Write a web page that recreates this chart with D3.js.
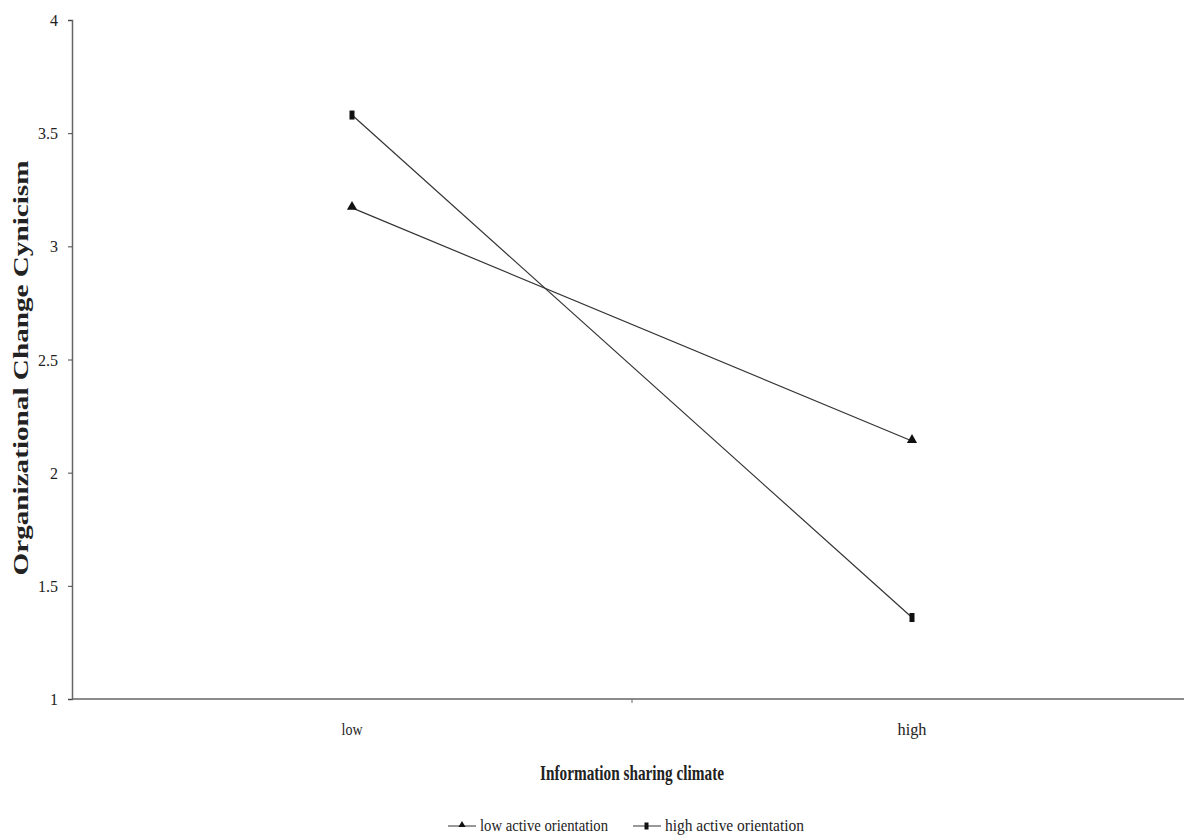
<!DOCTYPE html>
<html>
<head>
<meta charset="utf-8">
<script src="https://cdn.jsdelivr.net/npm/d3@7"></script>
<style>
  body { margin: 0; background: #fff; }
  text { font-family: "Liberation Serif", "Times New Roman", serif; fill: #222; }
</style>
</head>
<body>
<script>
// data
const categories = ["low", "high"];
const seriesNames = ["low active orientation", "high active orientation"];
const lowActive = [3.17, 2.14];
const highActive = [3.58, 1.36];
const yTicks = [1, 1.5, 2, 2.5, 3, 3.5, 4];

const width = 1184, height = 836;
const svg = d3.select("body").append("svg")
  .attr("width", width)
  .attr("height", height);

const x = d3.scaleBand()
  .domain(categories)
  .range([72, 1192]);

const y = d3.scaleLinear()
  .domain([1, 4])
  .range([699, 20]);

// y axis
const yAxis = svg.append("g")
  .attr("transform", "translate(72,0)")
  .call(d3.axisLeft(y).tickValues(yTicks).tickSize(4).tickFormat(d3.format("")))
  .attr("font-family", "Liberation Serif")
  .attr("font-size", 17);
yAxis.select(".domain").attr("stroke", "#666").attr("stroke-width", 1.5);
yAxis.selectAll(".tick line").attr("stroke", "#444");
yAxis.selectAll(".tick text")
  .attr("x", -14)
  .attr("dy", "0.33em")
  .attr("fill", "#222")
  .attr("textLength", d => String(d).length > 1 ? 20 : 8)
  .attr("lengthAdjust", "spacingAndGlyphs");

// x axis, tick between the two bands
svg.append("line")
  .attr("x1", 72).attr("x2", width)
  .attr("y1", y(1)).attr("y2", y(1))
  .attr("stroke", "#666").attr("stroke-width", 1.5);
svg.append("line")
  .attr("x1", x("high")).attr("x2", x("high"))
  .attr("y1", y(1)).attr("y2", y(1) + 4)
  .attr("stroke", "#666");

svg.selectAll(".xlab")
  .data(categories)
  .enter()
  .append("text")
  .attr("class", "xlab")
  .attr("x", d => x(d) + x.bandwidth() / 2)
  .attr("y", 735)
  .attr("text-anchor", "middle")
  .style("font-size", "17px")
  .attr("textLength", d => d === "low" ? 21 : 29)
  .attr("lengthAdjust", "spacingAndGlyphs")
  .text(d => d);

// axis titles
svg.append("text")
  .attr("x", 632).attr("y", 780)
  .attr("text-anchor", "middle")
  .style("font-size", "21px")
  .style("font-weight", "bold")
  .attr("textLength", 184)
  .attr("lengthAdjust", "spacingAndGlyphs")
  .text("Information sharing climate");

svg.append("text")
  .attr("transform", "translate(28,368) rotate(-90)")
  .attr("text-anchor", "middle")
  .style("font-size", "22px")
  .style("font-weight", "bold")
  .attr("textLength", 415)
  .attr("lengthAdjust", "spacingAndGlyphs")
  .text("Organizational Change Cynicism");

// lines and markers
const cx = d => x(d) + x.bandwidth() / 2;
const line = d3.line()
  .x((d, i) => cx(categories[i]))
  .y(d => y(d));

const series = [lowActive, highActive];

svg.selectAll(".series")
  .data(series)
  .enter()
  .append("path")
  .attr("class", "series")
  .attr("d", d => line(d))
  .attr("fill", "none")
  .attr("stroke", "#333")
  .attr("stroke-width", 1.2);

const tri = d3.symbol().type(d3.symbolTriangle).size(45);

svg.selectAll(".tri")
  .data(lowActive)
  .enter()
  .append("path")
  .attr("class", "tri")
  .attr("d", tri)
  .attr("transform", (d, i) => `translate(${cx(categories[i])},${y(d) - 1})`)
  .attr("fill", "#111");

svg.selectAll(".sq")
  .data(highActive)
  .enter()
  .append("rect")
  .attr("class", "sq")
  .attr("x", (d, i) => cx(categories[i]) - 2.5)
  .attr("y", d => y(d) - 4.5)
  .attr("width", 5)
  .attr("height", 9)
  .attr("fill", "#111");

// legend
const legendX = [448, 633];
const legendLen = [128, 139];
const legend = svg.selectAll(".legend")
  .data(seriesNames)
  .enter()
  .append("g")
  .attr("class", "legend")
  .attr("transform", (d, i) => `translate(${legendX[i]},826)`);

legend.append("line")
  .attr("x1", 0).attr("x2", 28)
  .attr("y1", 0).attr("y2", 0)
  .attr("stroke", "#333");

legend.each(function(d, i) {
  const g = d3.select(this);
  if (i === 0) {
    g.append("path")
      .attr("d", d3.symbol().type(d3.symbolTriangle).size(22))
      .attr("transform", "translate(14,-1)")
      .attr("fill", "#111");
  } else {
    g.append("rect")
      .attr("x", 11.5).attr("y", -3.5)
      .attr("width", 4).attr("height", 7)
      .attr("fill", "#111");
  }
});

legend.append("text")
  .attr("x", 32)
  .attr("y", 5)
  .style("font-size", "16px")
  .attr("textLength", (d, i) => legendLen[i])
  .attr("lengthAdjust", "spacingAndGlyphs")
  .text(d => d);
</script>
</body>
</html>
